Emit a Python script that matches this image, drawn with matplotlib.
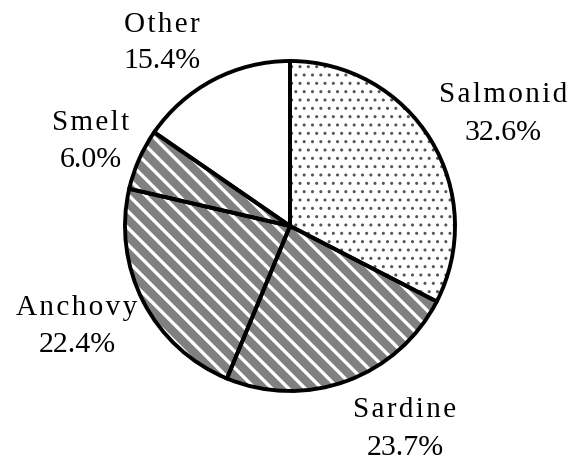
import matplotlib
matplotlib.use("Agg")
import matplotlib.pyplot as plt

categories = ["Salmonid", "Sardine", "Anchovy", "Smelt", "Other"]
shares = [32.6, 23.7, 22.4, 6.0, 15.4]
face_colors = ["white", "#808080", "#808080", "#808080", "white"]
hatch_colors = ["#555555", "white", "white", "white", "white"]
hatches = ["..", "\\\\", "\\\\", "\\\\", ""]

# label layout in pixels: (x centre, name baseline, percent baseline)
label_px = [(503, 102, 140), (405, 417, 455), (77, 315, 352),
            (91, 130, 167), (162, 32, 68)]

W, H, DPI = 573, 460, 100
cx, cy, R = 290, 227, 165

fig = plt.figure(figsize=(W / DPI, H / DPI), dpi=DPI)
ax = fig.add_axes([0, 0, 1, 1])

# fill + hatch layer
wedges, _ = ax.pie(shares, startangle=90, counterclock=False, radius=1,
                   colors=face_colors, wedgeprops=dict(linewidth=0))
for w, hc, h in zip(wedges, hatch_colors, hatches):
    w.set_edgecolor(hc)
    w.set_hatch(h)
    w.set_linewidth(0)
    if hasattr(w, "set_hatch_linewidth"):
        w.set_hatch_linewidth(1.0 if h == ".." else 2.4)

# outline layer
ax.pie(shares, startangle=90, counterclock=False, radius=1,
       colors=["none"] * len(shares),
       wedgeprops=dict(linewidth=2.8, edgecolor="black", fill=False))

ax.set_xlim(-cx / R, (W - cx) / R)
ax.set_ylim((cy - H) / R, cy / R)
ax.set_aspect("equal")
ax.axis("off")

serif = ["Liberation Serif", "DejaVu Serif"]
hair = "\u200a"
for name, val, (px, py1, py2) in zip(categories, shares, label_px):
    x = (px - cx) / R
    ax.text(x, (cy - py1) / R, hair.join(name), ha="center", va="baseline",
            fontsize=21, family=serif)
    ax.text(x, (cy - py2) / R, f"{val:.1f}%", ha="center", va="baseline",
            fontsize=21.5, family=serif)

fig.savefig("out.png", dpi=DPI)
